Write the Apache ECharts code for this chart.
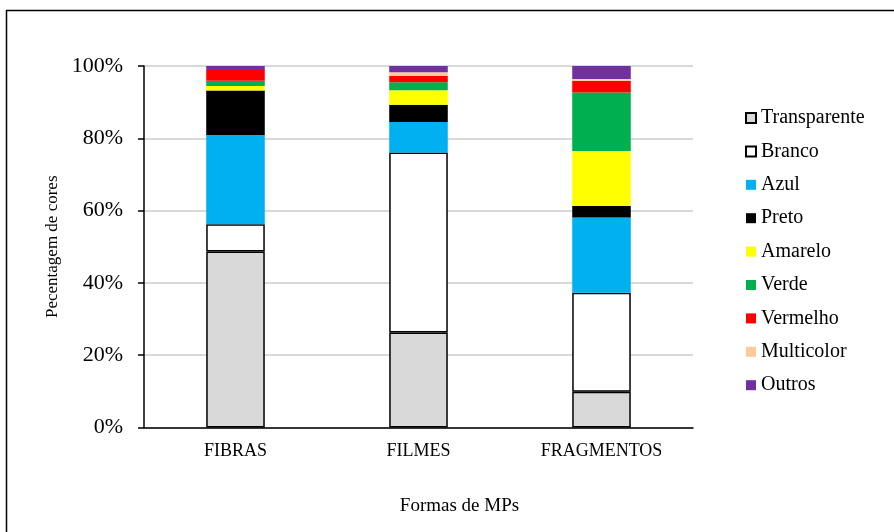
<!DOCTYPE html>
<html>
<head>
<meta charset="utf-8">
<script src="https://cdn.jsdelivr.net/npm/echarts@6/dist/echarts.min.js"></script>
<style>
  html, body { margin: 0; padding: 0; background: #fff; }
  #chart { width: 894px; height: 532px; }
</style>
</head>
<body>
<div id="chart"></div>
<script>
// Shapes of microplastics (categories)
const categories = ['FIBRAS', 'FILMES', 'FRAGMENTOS'];

// Colour share (%) per shape, stacked bottom to top
const transparente = [48.7, 26.3, 9.9];
const branco       = [7.5, 49.8, 27.4];
const azul         = [24.7, 8.4, 20.8];
const preto        = [12.3, 4.8, 3.2];
const amarelo      = [1.3, 4.0, 15.2];
const verde        = [1.4, 2.2, 16.2];
const vermelho     = [3.0, 1.8, 3.2];
const multicolor   = [0.0, 1.0, 0.5];
const outros       = [1.1, 1.7, 3.6];

const yTicks = [0, 20, 40, 60, 80, 100];

const serif = '"Liberation Serif", "Times New Roman", serif';

const seriesDefs = [
  { name: 'Transparente', data: transparente, color: '#d9d9d9', border: true },
  { name: 'Branco',       data: branco,       color: '#ffffff', border: true },
  { name: 'Azul',         data: azul,         color: '#00b0f0' },
  { name: 'Preto',        data: preto,        color: '#000000' },
  { name: 'Amarelo',      data: amarelo,      color: '#ffff00' },
  { name: 'Verde',        data: verde,        color: '#00b050' },
  { name: 'Vermelho',     data: vermelho,     color: '#ff0000' },
  { name: 'Multicolor',   data: multicolor,   color: '#ffcc99' },
  { name: 'Outros',       data: outros,       color: '#7030a0' }
];

const chart = echarts.init(document.getElementById('chart'), null, { renderer: 'canvas' });

chart.setOption({
  backgroundColor: '#ffffff',
  animation: false,
  graphic: [{
    type: 'rect',
    shape: { x: 6.5, y: 10.5, width: 920, height: 560 },
    style: { fill: 'none', stroke: '#000', lineWidth: 1.5 },
    z: -10
  }],
  grid: { left: 144, right: 201, top: 66, bottom: 104.5 },
  legend: {
    orient: 'vertical',
    left: 740,
    top: 103,
    itemWidth: 10,
    itemHeight: 10,
    itemGap: 13.4,
    icon: 'rect',
    textStyle: { fontFamily: serif, fontSize: 20, color: '#000', lineHeight: 20 },
    data: seriesDefs.map(s => s.name)
  },
  xAxis: {
    type: 'category',
    data: categories,
    name: 'Formas de MPs',
    nameLocation: 'middle',
    nameGap: 69,
    nameTextStyle: { fontFamily: serif, fontSize: 19, color: '#000', padding: [0, 0, 0, 82] },
    axisLine: { lineStyle: { color: '#000', width: 1.5 } },
    axisTick: { show: false },
    axisLabel: { fontFamily: serif, fontSize: 18, color: '#000', margin: 15 }
  },
  yAxis: {
    type: 'value',
    min: yTicks[0],
    max: yTicks[yTicks.length - 1],
    interval: 20,
    name: 'Pecentagem de cores',
    nameLocation: 'middle',
    nameGap: 82,
    nameTextStyle: { fontFamily: serif, fontSize: 17, color: '#000' },
    axisLine: { show: true, lineStyle: { color: '#000', width: 1.5 } },
    axisTick: { show: true, length: 6, lineStyle: { color: '#000', width: 1.5 } },
    axisLabel: { fontFamily: serif, fontSize: 22, color: '#000', margin: 21, formatter: '{value}%' },
    splitLine: { lineStyle: { color: '#d9d9d9', width: 2 } }
  },
  series: seriesDefs.map(s => ({
    name: s.name,
    type: 'bar',
    stack: 'total',
    barWidth: '32%',
    data: s.data,
    itemStyle: {
      color: s.color,
      borderColor: s.border ? '#000' : s.color,
      borderWidth: s.border ? 1.5 : 0
    }
  }))
});
</script>
</body>
</html>
